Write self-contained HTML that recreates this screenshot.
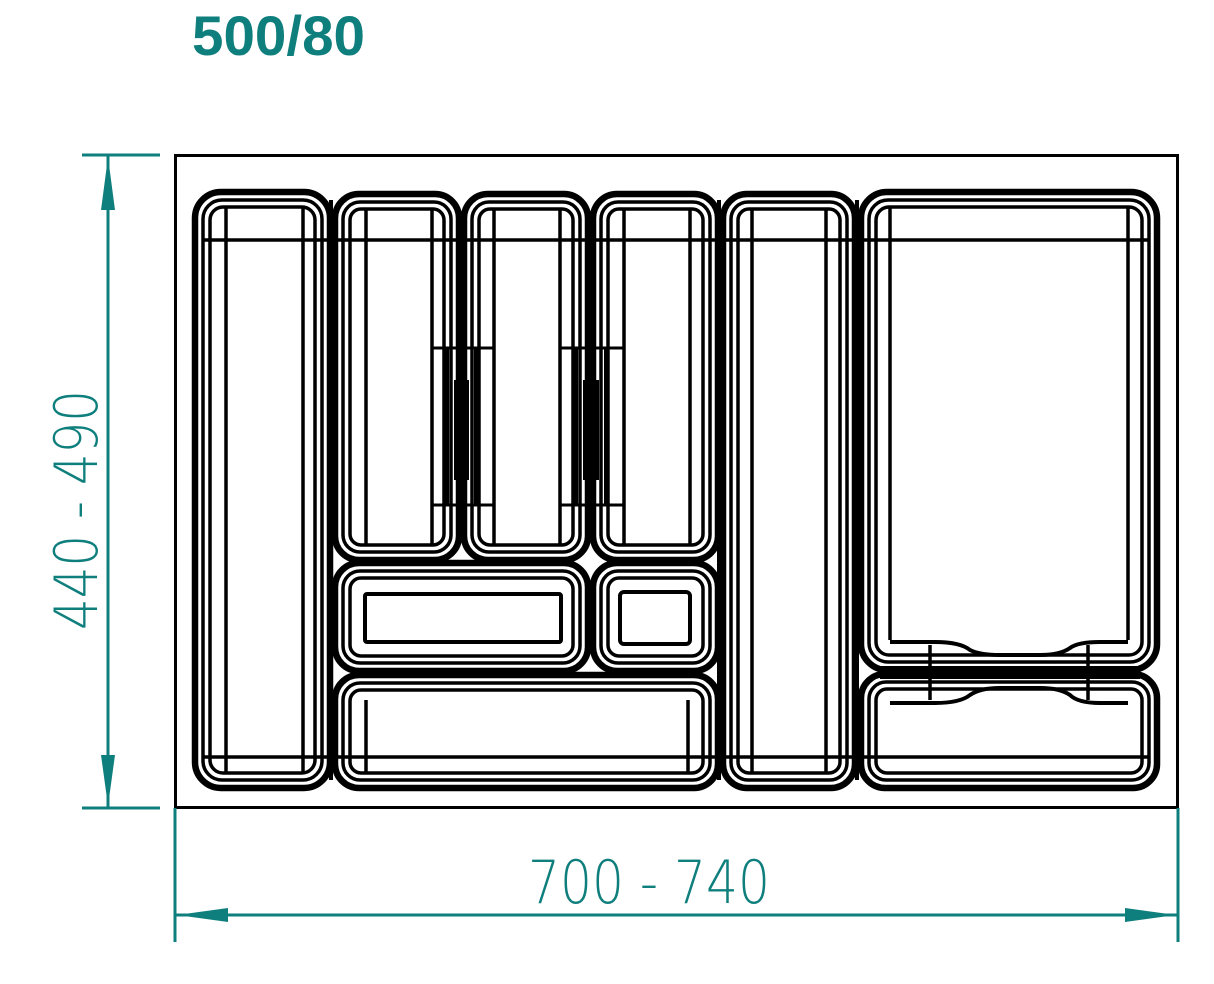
<!DOCTYPE html>
<html><head><style>
html,body{margin:0;padding:0;background:#fff;}
svg{display:block;}
</style></head><body>
<svg width="1214" height="984" viewBox="0 0 1214 984" xmlns="http://www.w3.org/2000/svg">
<text x="192" y="55" font-family="Liberation Sans, sans-serif" font-weight="bold" font-size="56" fill="#0f7f7d" textLength="173" lengthAdjust="spacingAndGlyphs">500/80</text>

<rect x="175.5" y="155.5" width="1002" height="652" fill="none" stroke="#000" stroke-width="3"/>

<g fill="none" stroke="#000">
<g>
<rect x="195" y="192" width="135" height="596" rx="26" stroke-width="6.5"/>
<rect x="203" y="200" width="119" height="580" rx="19" stroke-width="3.5"/>
<rect x="210" y="207" width="105" height="566" rx="13" stroke-width="3.5"/>
<line x1="226" y1="207" x2="226" y2="773" stroke-width="3.5"/>
<line x1="303" y1="207" x2="303" y2="773" stroke-width="3.5"/>
</g>
<g stroke-width="3.5">
<line x1="203" y1="240" x2="1150" y2="240"/>
<line x1="203" y1="757" x2="1150" y2="757"/>
</g>
<rect x="335" y="194" width="124" height="366" rx="24" stroke-width="6.5"/>
<rect x="343" y="202" width="108" height="350" rx="17" stroke-width="3.5"/>
<rect x="350" y="209" width="94" height="336" rx="11" stroke-width="3.5"/>
<line x1="366" y1="209" x2="366" y2="545" stroke-width="3.5"/>
<line x1="432" y1="209" x2="432" y2="545" stroke-width="3.5"/>
<rect x="464" y="194" width="124" height="366" rx="24" stroke-width="6.5"/>
<rect x="472" y="202" width="108" height="350" rx="17" stroke-width="3.5"/>
<rect x="479" y="209" width="94" height="336" rx="11" stroke-width="3.5"/>
<line x1="494" y1="209" x2="494" y2="545" stroke-width="3.5"/>
<line x1="560" y1="209" x2="560" y2="545" stroke-width="3.5"/>
<rect x="593" y="194" width="125" height="366" rx="24" stroke-width="6.5"/>
<rect x="601" y="202" width="109" height="350" rx="17" stroke-width="3.5"/>
<rect x="608" y="209" width="95" height="336" rx="11" stroke-width="3.5"/>
<line x1="624" y1="209" x2="624" y2="545" stroke-width="3.5"/>
<line x1="690" y1="209" x2="690" y2="545" stroke-width="3.5"/>
<g stroke-width="4">
<line x1="447" y1="348" x2="447" y2="505"/><line x1="456" y1="380" x2="456" y2="480"/>
<line x1="467" y1="380" x2="467" y2="480"/><line x1="476" y1="348" x2="476" y2="505"/>
<line x1="576" y1="348" x2="576" y2="505"/><line x1="585" y1="380" x2="585" y2="480"/>
<line x1="597" y1="380" x2="597" y2="480"/><line x1="606" y1="348" x2="606" y2="505"/>
</g>
<g stroke-width="3">
<line x1="432" y1="348" x2="494" y2="348"/><line x1="560" y1="348" x2="624" y2="348"/>
<line x1="432" y1="505" x2="494" y2="505"/><line x1="560" y1="505" x2="624" y2="505"/>
</g>
<rect x="335" y="563" width="253" height="108" rx="24" stroke-width="6.5"/>
<rect x="343" y="571" width="237" height="92" rx="17" stroke-width="3.5"/>
<rect x="350" y="578" width="223" height="78" rx="11" stroke-width="3.5"/>
<rect x="365" y="594" width="196" height="48" rx="2" stroke-width="4"/>
<rect x="593" y="563" width="125" height="108" rx="24" stroke-width="6.5"/>
<rect x="601" y="571" width="109" height="92" rx="17" stroke-width="3.5"/>
<rect x="608" y="578" width="95" height="78" rx="11" stroke-width="3.5"/>
<rect x="620" y="592" width="70" height="52" rx="4" stroke-width="4"/>
<rect x="335" y="675" width="383" height="113" rx="24" stroke-width="6.5"/>
<rect x="343" y="683" width="367" height="97" rx="17" stroke-width="3.5"/>
<rect x="350" y="690" width="353" height="83" rx="11" stroke-width="3.5"/>
<line x1="366" y1="700" x2="366" y2="773" stroke-width="3.5"/>
<line x1="688" y1="700" x2="688" y2="773" stroke-width="3.5"/>
<rect x="723" y="194" width="132" height="594" rx="24" stroke-width="6.5"/>
<rect x="731" y="202" width="116" height="578" rx="17" stroke-width="3.5"/>
<rect x="738" y="209" width="102" height="564" rx="11" stroke-width="3.5"/>
<line x1="752" y1="209" x2="752" y2="773" stroke-width="3.5"/>
<line x1="826" y1="209" x2="826" y2="773" stroke-width="3.5"/>
<rect x="861" y="192" width="296" height="478" rx="26" stroke-width="6.5"/>
<rect x="869" y="200" width="280" height="462" rx="19" stroke-width="3.5"/>
<rect x="876" y="207" width="266" height="448" rx="13" stroke-width="3.5"/>
<line x1="890" y1="207" x2="890" y2="640" stroke-width="3.5"/>
<line x1="1128" y1="207" x2="1128" y2="640" stroke-width="3.5"/>
<path d="M890 642 L935 642 Q960 642 970 650 Q980 655 1000 655 L1040 655 Q1060 655 1070 648 Q1078 642 1100 642 L1128 642" stroke-width="4"/>
<rect x="861" y="674" width="296" height="114" rx="24" stroke-width="6.5"/>
<rect x="869" y="682" width="280" height="98" rx="17" stroke-width="3.5"/>
<rect x="876" y="689" width="266" height="84" rx="11" stroke-width="3.5"/>
<path d="M890 703 L935 703 Q960 703 970 695 Q980 688 1000 688 L1040 688 Q1060 688 1070 695 Q1078 703 1100 703 L1128 703" stroke-width="4"/>
<g stroke-width="4">
<line x1="880" y1="668" x2="1140" y2="668"/><line x1="880" y1="677" x2="1140" y2="677"/>
</g>
<line x1="930" y1="645" x2="930" y2="700" stroke-width="3.5"/>
<line x1="1088" y1="645" x2="1088" y2="700" stroke-width="3.5"/>
<g stroke-width="4">
<line x1="331" y1="200" x2="331" y2="780"/><line x1="719" y1="200" x2="719" y2="780"/><line x1="857" y1="200" x2="857" y2="780"/>
</g>
</g>

<g stroke="#0f7f7d" stroke-width="3" fill="#0f7f7d">
<line x1="82" y1="155" x2="160" y2="155"/>
<line x1="82" y1="808" x2="160" y2="808"/>
<line x1="108" y1="155" x2="108" y2="808"/>
<polygon points="108,157 101,210 115,210" stroke="none"/>
<polygon points="108,806 101,755 115,755" stroke="none"/>
<line x1="175" y1="808" x2="175" y2="942"/>
<line x1="1178" y1="808" x2="1178" y2="942"/>
<line x1="175" y1="915" x2="1178" y2="915"/>
<polygon points="177,915 228,908 228,922" stroke="none"/>
<polygon points="1176,915 1125,908 1125,922" stroke="none"/>
</g>
<text x="528" y="903" font-family="DejaVu Sans, sans-serif" font-weight="200" font-size="60" fill="#0f7f7d" textLength="242" lengthAdjust="spacingAndGlyphs">700 - 740</text>
<text transform="translate(97,630) rotate(-90)" font-family="DejaVu Sans, sans-serif" font-weight="200" font-size="60" fill="#0f7f7d" textLength="240" lengthAdjust="spacingAndGlyphs">440 - 490</text>
</svg>
</body></html>
